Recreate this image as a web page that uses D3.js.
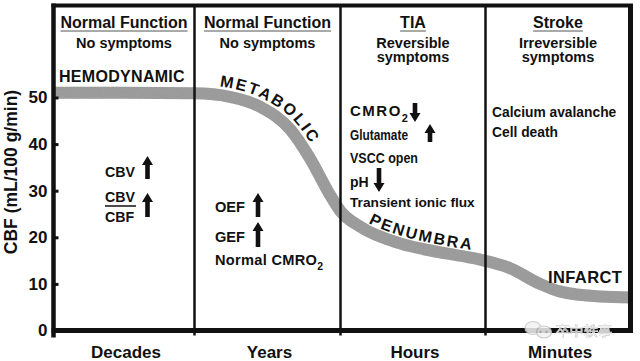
<!DOCTYPE html>
<html>
<head>
<meta charset="utf-8">
<script src="https://cdn.jsdelivr.net/npm/d3@7"></script>
<style>
  body { margin: 0; background: #fff; }
  svg { display: block; }
  text { font-family: "Liberation Sans", Arial, Helvetica, sans-serif; font-weight: bold; fill: #111; }
</style>
</head>
<body>
<div id="chart"></div>
<script>
// 数据
const stages = ["Decades", "Years", "Hours", "Minutes"];
const phaseTitles = ["Normal Function", "Normal Function", "TIA", "Stroke"];
const phaseNotes = [["No symptoms"], ["No symptoms"], ["Reversible", "symptoms"], ["Irreversible", "symptoms"]];
const yTicks = [0, 10, 20, 30, 40, 50];
// [时间阶段位置, CBF]
const cbfCurve = [
  [0, 51], [0.5, 51], [1.0, 50.9], [1.25, 50.1], [1.45, 48], [1.66, 43],
  [1.79, 37], [1.93, 29], [2.0, 25.6], [2.14, 22.2], [2.41, 18.7], [2.68, 16.8],
  [2.95, 15.3], [3.16, 13.5], [3.37, 10.1], [3.51, 8.4], [3.79, 7.3], [4.0, 7.1]
];
const curveLabels = ["HEMODYNAMIC", "METABOLIC", "PENUMBRA", "INFARCT"];
const hemoNotes = ["CBV", "CBV", "CBF"];
const metaNotes = ["OEF", "GEF", "Normal CMRO"];
const tiaNotes = ["CMRO", "Glutamate", "VSCC open", "pH", "Transient ionic flux"];
const strokeNotes = ["Calcium avalanche", "Cell death"];
const watermark = "卒中轶事";

const WIDTH = 640, HEIGHT = 361;

const svg = d3.select("#chart").append("svg")
  .attr("width", WIDTH).attr("height", HEIGHT);

svg.append("rect").attr("width", WIDTH).attr("height", HEIGHT).attr("fill", "#fff");

// 比例尺
const x = d3.scaleLinear().domain([0, 1, 2, 3, 4]).range([53.5, 194.5, 340.5, 485.5, 630.5]);
const y = d3.scaleLinear().domain([0, 50]).range([330.5, 97.5]);
const TOP = 5.5;

// 颗粒纹理
const defs = svg.append("defs");
const grain = defs.append("filter").attr("id", "grain")
  .attr("filterUnits", "userSpaceOnUse")
  .attr("x", 0).attr("y", 0).attr("width", WIDTH).attr("height", HEIGHT);
grain.append("feTurbulence").attr("type", "fractalNoise")
  .attr("baseFrequency", 0.9).attr("numOctaves", 2).attr("seed", 4).attr("result", "noise");
grain.append("feColorMatrix").attr("in", "noise").attr("type", "matrix")
  .attr("values", "0 0 0 0 0.3  0 0 0 0 0.3  0 0 0 0 0.3  1.8 0 0 0 -0.75").attr("result", "dots");
grain.append("feComposite").attr("in", "dots").attr("in2", "SourceGraphic")
  .attr("operator", "in").attr("result", "clip");
const merge = grain.append("feMerge");
merge.append("feMergeNode").attr("in", "SourceGraphic");
merge.append("feMergeNode").attr("in", "clip");

// CBF 曲线带
const line = d3.line().x(d => x(d[0])).y(d => y(d[1])).curve(d3.curveMonotoneX);
const band = svg.append("path")
  .attr("d", line(cbfCurve))
  .attr("fill", "none")
  .attr("stroke", "#9d9d9d")
  .attr("stroke-width", 12)
  .attr("filter", "url(#grain)");

// 沿曲线的偏移路径（给弯曲文字用）
const node = band.node();
const total = node.getTotalLength();
function offsetPoints(xa, xb, off) {
  const pts = [];
  for (let s = 0; s <= total; s += 1) {
    const p = node.getPointAtLength(s);
    if (p.x < xa || p.x > xb) continue;
    const p0 = node.getPointAtLength(Math.max(0, s - 2));
    const p1 = node.getPointAtLength(Math.min(total, s + 2));
    const dx = p1.x - p0.x, dy = p1.y - p0.y, n = Math.hypot(dx, dy);
    pts.push([p.x + (dy / n) * off, p.y - (dx / n) * off]);
  }
  return pts;
}
defs.append("path").attr("id", "arcMeta").attr("d", d3.line()(offsetPoints(x(1.16), x(2.1), 8.5)));
defs.append("path").attr("id", "arcPen").attr("d", d3.line()(offsetPoints(x(2.16), x(3.1), 7.5)));

svg.append("text").attr("font-size", 16).attr("letter-spacing", 2.2)
  .append("textPath").attr("href", "#arcMeta").text(curveLabels[1]);
svg.append("text").attr("font-size", 16).attr("letter-spacing", 2)
  .append("textPath").attr("href", "#arcPen").text(curveLabels[2]);

svg.append("text").attr("x", 59).attr("y", 82).attr("font-size", 16)
  .attr("letter-spacing", 0.3).text(curveLabels[0]);
svg.append("text").attr("x", 548).attr("y", 283).attr("font-size", 16.5)
  .attr("letter-spacing", 0.4).text(curveLabels[3]);

// 框架
const frame = svg.append("g").attr("stroke", "#111");
frame.selectAll("line.div").data([1, 2, 3]).join("line")
  .attr("class", "div")
  .attr("x1", d => x(d)).attr("x2", d => x(d))
  .attr("y1", TOP).attr("y2", y(0) + 5)
  .attr("stroke-width", 2.5);
frame.append("line").attr("x1", x(0) - 2).attr("x2", x(4) + 2.5)
  .attr("y1", TOP).attr("y2", TOP).attr("stroke-width", 4);
frame.append("line").attr("x1", x(4)).attr("x2", x(4))
  .attr("y1", TOP).attr("y2", y(0)).attr("stroke-width", 5);
frame.append("line").attr("x1", x(0)).attr("x2", x(0))
  .attr("y1", TOP - 2).attr("y2", y(0) + 7).attr("stroke-width", 4.5);
frame.append("line").attr("x1", x(0) - 2).attr("x2", x(4) + 2.5)
  .attr("y1", y(0)).attr("y2", y(0)).attr("stroke-width", 5);

// Y 轴
const yAxis = svg.append("g")
  .attr("transform", `translate(${x(0)},0)`)
  .call(d3.axisLeft(y).tickValues(yTicks).tickSize(-5).tickPadding(6));
yAxis.select(".domain").remove();
yAxis.selectAll(".tick line").attr("stroke", "#111").attr("stroke-width", 3);
yAxis.selectAll(".tick text")
  .attr("font-family", '"Liberation Sans", Arial, sans-serif')
  .attr("font-weight", "bold").attr("font-size", 17).attr("fill", "#111");

svg.append("text")
  .attr("transform", `translate(17,${(y(0) + TOP) / 2 + 4}) rotate(-90)`)
  .attr("text-anchor", "middle").attr("font-size", 17.5)
  .text("CBF (mL/100 g/min)");

// X 轴标签
svg.selectAll("text.stage").data(stages).join("text")
  .attr("class", "stage")
  .attr("x", (d, i) => x(i + 0.5) + 2).attr("y", 358)
  .attr("text-anchor", "middle").attr("font-size", 17)
  .text(d => d);

// 阶段标题
phaseTitles.forEach((t, i) => {
  const cx = x(i + 0.5);
  const tt = svg.append("text").attr("x", cx).attr("y", 28)
    .attr("text-anchor", "middle").attr("font-size", 16).text(t);
  const w = tt.node().getComputedTextLength();
  svg.append("line").attr("x1", cx - w / 2).attr("x2", cx + w / 2)
    .attr("y1", 31).attr("y2", 31).attr("stroke", "#555").attr("stroke-width", 1);
  phaseNotes[i].forEach((n, j) => {
    svg.append("text").attr("x", cx).attr("y", 47.5 + j * 14.5)
      .attr("text-anchor", "middle").attr("font-size", 14.5).text(n);
  });
});

// 粗箭头
function arrow(cx, y0, y1, dir) {
  const hw = 5.5, hh = 9, sw = 2.3;
  let d;
  if (dir === "up") {
    d = `M${cx - hw},${y0 + hh} L${cx},${y0} L${cx + hw},${y0 + hh} L${cx + sw},${y0 + hh} L${cx + sw},${y1} L${cx - sw},${y1} L${cx - sw},${y0 + hh} Z`;
  } else {
    d = `M${cx - hw},${y1 - hh} L${cx},${y1} L${cx + hw},${y1 - hh} L${cx + sw},${y1 - hh} L${cx + sw},${y0} L${cx - sw},${y0} L${cx - sw},${y1 - hh} Z`;
  }
  svg.append("path").attr("d", d).attr("fill", "#111");
}

function label(tx, ty, text, size, extra) {
  const t = svg.append("text").attr("x", tx).attr("y", ty).attr("font-size", size).text(text);
  if (extra) extra(t);
  return t;
}

// 血流动力学阶段
label(105, 177, hemoNotes[0], 14.2);
arrow(147.5, 156, 179, "up");
label(105, 202, hemoNotes[1], 14.2);
svg.append("line").attr("x1", 105).attr("x2", 136).attr("y1", 206).attr("y2", 206)
  .attr("stroke", "#111").attr("stroke-width", 1.5);
label(105, 222, hemoNotes[2], 14.2);
arrow(147.5, 193, 217, "up");

// 代谢阶段
label(215, 212, metaNotes[0], 14.6);
arrow(258, 193, 217, "up");
label(215, 242, metaNotes[1], 14.6);
arrow(258, 222, 247, "up");
const nc = label(215, 265, metaNotes[2], 14.6, t => t.attr("letter-spacing", 0.3));
nc.append("tspan").attr("font-size", 10.5).attr("dy", 5).text("2");

// TIA 阶段
const cm = label(350, 116, tiaNotes[0], 15, t => t.attr("letter-spacing", 1.5));
cm.append("tspan").attr("font-size", 11).attr("dy", 6).attr("letter-spacing", 0).text("2");
arrow(415, 103, 122, "down");
label(350, 140, tiaNotes[1], 13.8, t => t.attr("textLength", 58).attr("lengthAdjust", "spacingAndGlyphs"));
arrow(430, 124, 142, "up");
label(350, 163, tiaNotes[2], 13.8, t => t.attr("textLength", 68).attr("lengthAdjust", "spacingAndGlyphs"));
label(350, 187, tiaNotes[3], 14);
arrow(379, 168, 192, "down");
label(350, 207, tiaNotes[4], 13.7);

// 卒中阶段
strokeNotes.forEach((n, i) => label(492, 117 + i * 20, n, 13.8));

// 水印
const wm = svg.append("g").attr("opacity", 0.85);
wm.append("ellipse").attr("cx", 533).attr("cy", 328).attr("rx", 8).attr("ry", 6.5)
  .attr("fill", "#f2f2f2").attr("stroke", "#c4c4c4").attr("stroke-width", 1.2);
wm.append("ellipse").attr("cx", 544).attr("cy", 332).attr("rx", 7.5).attr("ry", 6)
  .attr("fill", "#f2f2f2").attr("stroke", "#c4c4c4").attr("stroke-width", 1.2);
[[540.5, 332], [546.5, 332]].forEach(p =>
  wm.append("circle").attr("cx", p[0]).attr("cy", p[1]).attr("r", 1.2).attr("fill", "#bdbdbd"));
wm.append("text").attr("x", 556).attr("y", 336)
  .attr("font-family", '"Noto Sans CJK SC", sans-serif').attr("font-weight", "normal")
  .attr("font-size", 14).attr("fill", "#d2d2d2")
  .attr("stroke", "#eeeeee").attr("stroke-width", 0.4)
  .text(watermark);
</script>
</body>
</html>
